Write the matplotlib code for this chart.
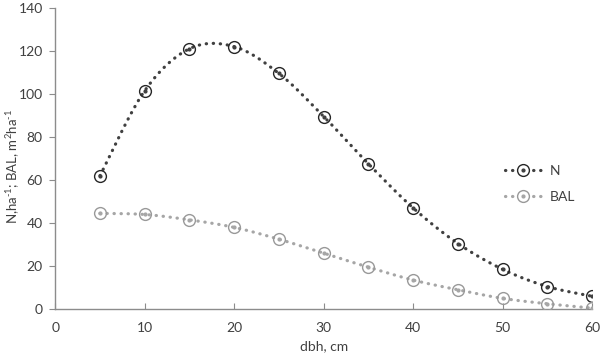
import numpy as np
import matplotlib
matplotlib.use("Agg")
import matplotlib.pyplot as plt
from matplotlib.lines import Line2D

plt.rcParams['font.family'] = ['Lato', 'DejaVu Sans']
plt.rcParams['mathtext.fontset'] = 'custom'
plt.rcParams['mathtext.rm'] = 'Lato'
plt.rcParams['mathtext.it'] = 'Lato'

dbh = [5, 10, 15, 20, 25, 30, 35, 40, 45, 50, 55, 60]
n_vals = [62, 101.5, 121, 122, 109.5, 89.5, 67.5, 47, 30.5, 18.5, 10.5, 6]
bal_vals = [44.5, 44, 41.5, 38, 32.5, 26, 19.5, 13.5, 9, 5, 2.5, 0.5]


def smooth(x, y, steps=30):
    # Catmull-Rom style smoothing (like spreadsheet smoothed lines)
    x = np.asarray(x, float); y = np.asarray(y, float)
    px = np.concatenate([[x[0]], x, [x[-1]]])
    py = np.concatenate([[y[0]], y, [y[-1]]])
    xs, ys = [], []
    t = np.linspace(0, 1, steps)
    for i in range(1, len(px) - 2):
        p0x, p1x, p2x, p3x = px[i-1], px[i], px[i+1], px[i+2]
        p0y, p1y, p2y, p3y = py[i-1], py[i], py[i+1], py[i+2]
        c1x = p1x + (p2x - p0x) / 6; c1y = p1y + (p2y - p0y) / 6
        c2x = p2x - (p3x - p1x) / 6; c2y = p2y - (p3y - p1y) / 6
        bx = (1-t)**3*p1x + 3*(1-t)**2*t*c1x + 3*(1-t)*t**2*c2x + t**3*p2x
        by = (1-t)**3*p1y + 3*(1-t)**2*t*c1y + 3*(1-t)*t**2*c2y + t**3*p2y
        xs.append(bx); ys.append(by)
    return np.concatenate(xs), np.concatenate(ys)


fig = plt.figure(figsize=(6, 3.57), dpi=100)
ax = fig.add_axes([0.092, 0.134, 0.895, 0.844])

series = [
    ("N", n_vals, "#404040", "#262626"),
    ("BAL", bal_vals, "#a6a6a6", "#999999"),
]
LS = (0, (0.1, 2.1))
LW = 2.3
handles = []
for label, vals, lc, mc in series:
    sx, sy = smooth(dbh, vals)
    ax.plot(sx, sy, color=lc, lw=LW, ls=LS, dash_capstyle='round', zorder=2)
    ax.plot(dbh, vals, ls='none', marker='o', ms=8.5, mfc='none', mec=mc, mew=1.0, zorder=3)
    ax.plot(dbh, vals, ls='none', marker='o', ms=2.0, mfc=lc, mec=lc, zorder=4)
    h = (Line2D([], [], color=lc, lw=LW, ls=LS, dash_capstyle='round'),
         Line2D([], [], ls='none', marker='o', ms=8.5, mfc='white', mec=mc, mew=1.0),
         Line2D([], [], ls='none', marker='o', ms=2.0, mfc=lc, mec=lc))
    handles.append((h, label))

ax.set_xlim(0, 60)
ax.set_ylim(0, 140)
ax.set_xticks(range(0, 61, 10))
ax.set_yticks(range(0, 141, 20))
for s in ['top', 'right']:
    ax.spines[s].set_visible(False)
for s in ['left', 'bottom']:
    ax.spines[s].set_color('#8c8c8c')
    ax.spines[s].set_linewidth(1.0)
ax.tick_params(axis='both', colors='#8c8c8c', labelcolor='#404040', labelsize=10, length=4)
ax.tick_params(axis='x', direction='in', pad=9)
ax.tick_params(axis='y', direction='out', pad=5)
ax.set_xlabel('dbh, cm', fontsize=10, color='#404040', labelpad=5)
ax.set_ylabel(r'N,ha$^{\text{-1}}$; BAL, m$^{\text{2}}$ha$^{\text{-1}}$', fontsize=9.5,
              color='#404040')
ax.yaxis.set_label_coords(-0.062, 0.472)

leg = ax.legend([h for h, _ in handles], [l for _, l in handles], loc='center left',
                bbox_to_anchor=(0.815, 0.415), frameon=False, fontsize=10,
                handlelength=2.6, labelspacing=1.0, handletextpad=0.6)
for t in leg.get_texts():
    t.set_color('#404040')

fig.savefig('out.png', dpi=100, facecolor='white')
